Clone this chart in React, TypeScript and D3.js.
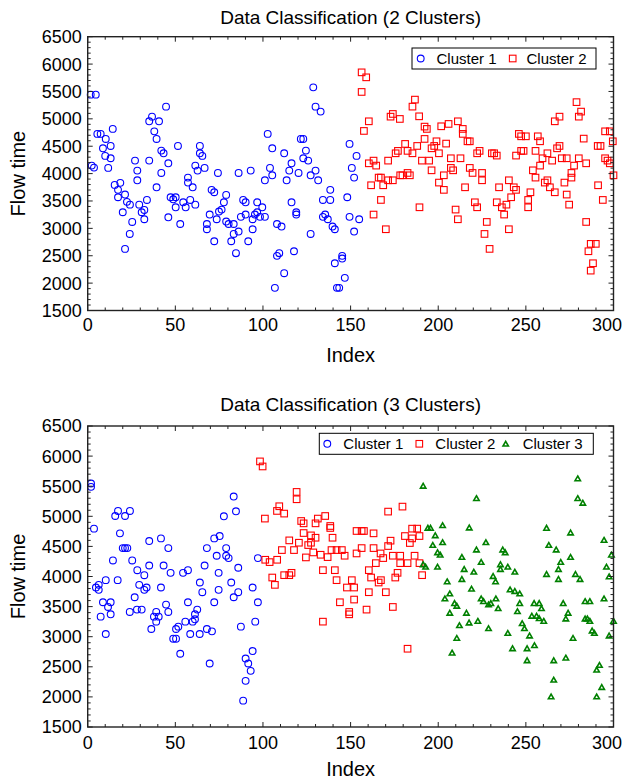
import React from 'react';
import * as d3 from 'd3';

// ---------- data: top chart (2 clusters) [index, flow time] ----------
const top2c1: [number, number][] = [
  [1.7,5442],[4.6,5442],[2.3,4146],[3.6,4110],[5.5,4725],[7.4,4725],[10.3,4633],[14.3,4816],[8.7,4462],[13.1,4505],
  [10.0,4323],[13.1,4280],[11.7,4104],[15.4,3794],[18.6,3831],[17.3,3703],[17.3,3568],[21.3,3617],[20.0,3294],[22.4,3484],
  [24.1,3433],[25.4,3117],[24.0,2898],[21.3,2625],[27.0,4237],[28.3,4055],[28.3,3878],[29.4,3433],[30.8,3294],[32.3,3336],
  [33.8,3519],[32.3,3166],[35.1,4237],[35.1,4955],[36.7,5040],[40.7,4955],[38.0,4772],[39.3,4633],[44.7,5223],[42.0,4420],
  [43.3,4371],[42.0,4012],[39.3,3750],[46.0,4188],[51.5,4505],[47.3,3568],[48.8,3531],[50.2,3568],[50.2,3385],[46.0,3202],
  [52.8,3080],[54.5,3476],[55.9,3385],[58.5,3519],[61.4,3433],[57.2,3927],[57.2,3836],[59.9,3750],[61.4,4146],[62.7,4055],
  [64.0,4505],[64.0,4371],[65.4,4323],[66.7,4104],[70.7,3703],[72.2,3659],[69.6,3252],[68.0,3080],[68.0,2984],[72.2,2765],
  [73.6,3166],[74.9,3307],[74.3,4012],[77.7,3476],[79.0,3611],[76.4,3343],[79.0,3124],[80.4,3080],[83.3,3080],[83.3,2898],
  [81.9,2765],[86.1,2942],[84.6,2546],[86.1,4012],[88.7,3519],[90.1,3476],[90.1,3252],[87.4,3210],[91.6,2765],[93.0,4055],
  [94.1,3166],[94.1,2984],[95.4,3252],[96.7,3476],[98.3,3210],[99.6,3385],[101.1,3210],[96.7,3294],[101.1,3878],[104.0,4104],
  [105.3,3969],[102.7,4725],[105.3,4462],[106.8,1914],[108.0,3080],[110.6,3033],[108.0,2498],[109.3,2546],[112.1,2181],[112.1,4371],
  [113.5,3878],[115.0,4055],[116.3,4188],[116.3,3476],[119.0,3294],[119.0,3252],[117.7,2582],[120.3,4012],[121.6,4633],[123.0,4633],
  [124.5,4420],[123.0,4280],[125.8,4237],[128.7,5575],[130.0,5223],[132.9,5132],[127.2,3969],[130.0,4055],[131.5,3878],[127.2,2898],
  [134.2,3519],[138.4,3519],[138.4,3703],[134.2,3210],[135.5,3252],[137.0,3166],[139.7,3033],[141.0,2984],[141.0,2363],[142.2,1914],
  [143.5,1914],[145.2,2498],[145.2,2449],[146.7,2096],[148.1,3568],[149.4,3210],[152.0,2942],[154.9,3166],[149.4,4542],[153.4,4323],
  [150.7,4104],[152.0,3927]
];
const top2c2: [number, number][] = [
  [156.3,5849],[158.9,5758],[156.3,5491],[160.4,4955],[157.6,4779],[160.4,4188],[163.1,4237],[164.6,4146],[161.7,3787],[166.0,3927],
  [167.3,3927],[168.6,3787],[167.3,3519],[163.1,3252],[170.1,2984],[171.4,4237],[171.4,3878],[174.1,3878],[172.8,5040],[174.1,5089],
  [178.1,4998],[175.7,4371],[177.0,4415],[178.3,3969],[179.6,3969],[182.5,4012],[183.8,3969],[181.1,4542],[182.5,4415],[185.3,4371],
  [185.3,5223],[186.7,5351],[189.1,5046],[188.0,4505],[190.7,4237],[194.8,4237],[189.3,3385],[192.2,4633],[192.2,4858],[193.5,4816],
  [196.2,4462],[197.7,4505],[199.0,4590],[200.4,4371],[196.2,4060],[200.4,3836],[203.2,3969],[203.2,3703],[201.7,4864],[205.9,4907],
  [211.2,4955],[204.5,4548],[207.2,4280],[212.7,4280],[207.2,4104],[208.5,4060],[215.3,3750],[209.9,3343],[211.2,3166],[214.0,4816],
  [214.0,4725],[216.7,4590],[218.0,4590],[218.0,4104],[219.6,4012],[220.9,3476],[222.2,3385],[222.2,4371],[223.6,4415],[225.0,4012],
  [225.0,3878],[227.7,3117],[226.4,2898],[229.3,2625],[230.6,4371],[231.9,4371],[233.4,4329],[234.7,3750],[233.4,3476],[236.3,3385],
  [238.9,3433],[237.6,3252],[240.3,2984],[240.3,3878],[243.1,3750],[244.4,3703],[241.6,3568],[244.4,4329],[247.3,4415],[248.7,4415],
  [246.0,4725],[247.3,4681],[250.0,4681],[252.6,3659],[251.3,3519],[251.3,3385],[254.0,4060],[255.5,3927],[255.5,4415],[256.8,4681],
  [258.1,4590],[258.1,4146],[259.5,4280],[262.3,4371],[260.8,3836],[262.3,3878],[263.7,3750],[266.5,3659],[265.0,4237],[266.5,4955],
  [269.2,5040],[267.8,4462],[269.2,4505],[270.5,4280],[273.3,4280],[272.0,3836],[276.0,4012],[276.0,3927],[273.3,3617],[274.7,3433],
  [277.5,4146],[280.2,4280],[284.4,4188],[278.9,5305],[281.5,5132],[280.2,5040],[283.0,4639],[284.4,3117],[285.7,2582],[287.0,2717],
  [289.9,2717],[287.0,2228],[288.3,2363],[291.2,3787],[293.9,3519],[295.2,4772],[297.9,4772],[291.0,4505],[292.6,4505],[299.6,4590],
  [295.2,4280],[296.6,4237],[297.9,4188],[300.0,3969]
];

// ---------- data: bottom chart (3 clusters) ----------
const bot3c1: [number, number][] = [
  [1.9,5545],[1.9,5489],[3.6,4795],[17.3,5089],[15.7,5005],[21.3,5005],[24.1,5089],[18.4,4717],[20.0,4472],[21.3,4472],
  [22.6,4472],[14.4,4267],[25.4,4267],[28.3,4105],[32.3,4022],[35.1,4589],[35.1,4183],[41.8,4633],[46.0,4472],[43.3,4183],
  [47.3,4061],[41.8,3817],[29.4,3861],[32.3,3778],[33.6,3817],[26.8,3655],[24.0,3411],[28.1,3450],[30.8,3450],[10.3,3939],
  [17.1,3939],[4.7,3817],[6.3,3861],[6.3,3778],[8.7,3572],[13.1,3572],[11.6,3494],[7.4,3333],[13.1,3372],[10.3,3045],
  [39.1,3411],[37.8,3333],[40.5,3333],[39.1,3250],[36.3,3128],[44.7,3533],[46.0,3411],[48.8,2967],[50.4,2967],[50.4,3128],
  [51.7,3167],[52.8,2717],[55.7,3250],[58.5,3045],[54.4,4061],[57.2,4105],[57.2,3572],[59.9,3250],[61.2,3289],[61.2,3372],
  [62.5,3450],[63.9,3045],[64.0,3900],[65.4,3739],[66.7,4183],[68.0,4472],[72.2,4633],[75.3,4672],[73.6,4345],[74.7,4061],
  [74.7,3778],[72.2,3572],[68.0,3128],[70.9,3089],[69.6,2555],[77.7,5000],[83.3,5328],[84.6,5083],[79.0,4472],[79.0,4345],
  [80.4,4306],[85.9,4145],[81.9,3900],[83.3,3655],[85.9,3739],[94.1,3817],[97.1,4306],[97.1,3572],[95.6,3250],[87.4,3167],
  [94.1,2762],[90.1,2638],[91.6,2555],[93.0,2433],[90.1,2267],[88.7,1938]
];
const bot3c2: [number, number][] = [
  [98.3,5912],[99.8,5828],[101.1,4962],[108.0,5089],[109.3,5167],[112.1,5045],[119.2,5405],[119.2,5283],[121.8,4922],[123.2,4883],
  [130.0,4883],[131.3,4962],[135.5,5005],[138.4,4806],[138.4,4839],[123.2,4722],[127.4,4683],[130.0,4644],[139.7,4644],[115.0,4600],
  [120.5,4561],[125.8,4522],[127.4,4561],[110.8,4439],[117.7,4439],[101.3,4278],[103.8,4239],[108.1,4278],[124.5,4317],[128.7,4400],
  [132.9,4361],[136.9,4322],[139.1,4439],[142.0,4439],[145.0,4439],[134.2,4105],[141.0,4105],[105.3,3983],[106.8,3861],[112.1,4022],
  [115.0,4022],[116.3,4061],[142.0,3939],[143.9,3572],[134.2,3250],[146.6,4345],[153.4,4756],[156.3,4756],[157.6,4756],[163.1,4717],
  [153.4,4383],[156.3,4472],[163.1,4472],[167.1,4383],[168.6,4306],[171.4,5078],[179.6,5161],[172.8,4595],[171.4,4506],[174.1,4345],
  [178.3,4345],[178.3,4222],[182.5,4222],[186.5,4345],[189.3,4222],[164.4,4222],[160.4,4105],[161.7,3983],[166.0,3900],[167.3,3939],
  [176.8,4061],[175.5,3983],[170.1,3739],[160.4,3739],[150.7,3939],[152.0,3817],[147.9,3817],[152.0,3617],[149.2,3411],[149.2,3372],
  [159.1,3450],[174.1,3494],[190.8,4022],[181.0,4672],[183.8,4556],[185.1,4795],[188.0,4795],[185.1,4633],[189.3,4672],[182.5,2800]
];
const bot3c3: [number, number][] = [
  [191.4,5505],[194.1,4806],[195.6,4806],[202.5,4850],[198.3,4683],[196.9,4522],[202.5,4567],[199.6,4400],[201.1,4361],[191.4,4200],
  [192.8,4161],[199.6,4161],[221.8,5300],[217.7,4811],[221.8,4445],[213.5,4322],[214.8,4122],[220.3,4078],[205.1,3917],[213.5,3956],
  [219.0,3795],[206.6,3717],[203.8,3633],[209.3,3556],[210.6,3511],[206.6,3395],[216.1,3395],[212.1,3189],[217.6,3233],[222.6,3261],
  [210.6,2978],[207.9,2733],[227.2,4567],[224.5,4239],[224.5,3633],[225.8,3589],[228.7,3533],[230.0,3556],[232.9,3633],[234.2,3472],
  [228.7,3139],[231.3,4006],[232.7,3917],[235.5,4200],[235.5,4122],[239.7,4161],[243.7,4078],[236.8,4445],[238.2,4400],[241.0,3783],
  [243.7,3756],[246.5,3717],[246.5,3556],[245.2,3422],[239.7,3061],[247.9,3222],[249.2,3139],[252.1,3017],[242.4,2806],[250.7,2806],
  [254.9,2856],[250.7,2606],[254.7,3556],[257.6,3556],[258.9,3472],[253.4,3345],[256.1,3345],[257.6,3306],[260.2,3261],[261.8,4806],
  [263.1,4522],[267.3,4445],[261.8,4039],[268.6,4122],[268.6,3956],[269.9,4239],[275.5,4728],[275.5,4322],[278.3,4039],[280.9,3956],
  [279.6,5628],[279.6,5300],[282.5,5222],[271.3,3556],[274.1,3395],[272.8,3300],[276.9,2978],[272.8,2650],[265.9,2606],[265.9,2283],
  [264.4,2005],[283.8,3589],[286.5,3589],[283.8,3300],[285.1,3300],[286.5,3261],[287.8,3100],[289.1,3061],[294.6,4606],[298.8,4361],
  [296.0,4161],[297.5,4000],[294.6,3633],[300.0,3261],[297.5,3017],[292.0,2528],[290.4,2450],[293.3,2161],[290.4,2005]
];

const xTickVals = [0, 50, 100, 150, 200, 250, 300];
const yTickVals = [1500, 2000, 2500, 3000, 3500, 4000, 4500, 5000, 5500, 6000, 6500];
const titles = ['Data Classification (2 Clusters)', 'Data Classification (3 Clusters)'];
const clusterNames = ['Cluster 1', 'Cluster 2', 'Cluster 3'];

const FONT = 'Liberation Sans, Arial, Helvetica, sans-serif';
const COLORS = ['#0000ff', '#ff0000', '#008000'];
const SVG_W = 626;

type Shape = 'circle' | 'square' | 'triangle';

function Marker({ shape, x, y, color }: { shape: Shape; x: number; y: number; color: string }) {
  if (shape === 'circle') {
    return <circle cx={x} cy={y} r={3.4} fill="none" stroke={color} strokeWidth={1.1} />;
  }
  if (shape === 'square') {
    const s = 6.6;
    return <rect x={x - s / 2} y={y - s / 2} width={s} height={s} fill="none" stroke={color} strokeWidth={1.1} />;
  }
  const h = 4.4;
  const w = 2.7;
  return (
    <path
      d={`M${x},${y - h / 2 - 0.3} L${x + w},${y + h / 2} L${x - w},${y + h / 2} Z`}
      fill="none"
      stroke={color}
      strokeWidth={1.6}
      strokeLinejoin="miter"
    />
  );
}

interface SeriesDef { data: [number, number][]; shape: Shape; color: string; name: string; }
interface LegendItem { mx: number; tx: number; }

function Panel({
  top, bottom, left, right, title, titleY, tickLabelY, xLabelY, series, legendBox, legendItems,
}: {
  top: number; bottom: number; left: number; right: number; title: string; titleY: number;
  tickLabelY: number; xLabelY: number; series: SeriesDef[];
  legendBox: { x: number; y: number; w: number; h: number }; legendItems: LegendItem[];
}) {
  const x = d3.scaleLinear().domain([0, 300]).range([left, right]);
  const y = d3.scaleLinear().domain([1500, 6500]).range([bottom, top]);
  const xMinor = d3.range(0, 301, 10);
  const yMinor = d3.range(1500, 6501, 100);
  const axisColor = '#222';
  const ly = legendBox.y + legendBox.h / 2;
  const tickFs = 18;
  return (
    <g>
      <text x={(left + right) / 2} y={titleY} textAnchor="middle" fontFamily={FONT} fontSize={19}>{title}</text>
      {series.map((s, si) => (
        <g key={si}>
          {s.data.map((d, i) => (
            <Marker key={i} shape={s.shape} x={x(d[0])} y={y(d[1])} color={s.color} />
          ))}
        </g>
      ))}
      <rect x={left} y={top} width={right - left} height={bottom - top} fill="none" stroke={axisColor} strokeWidth={1.4} />
      {xMinor.map((v) => {
        const len = v % 50 === 0 ? 5 : 3;
        return (
          <g key={'x' + v}>
            <line x1={x(v)} x2={x(v)} y1={bottom} y2={bottom - len} stroke={axisColor} strokeWidth={1} />
            <line x1={x(v)} x2={x(v)} y1={top} y2={top + len} stroke={axisColor} strokeWidth={1} />
          </g>
        );
      })}
      {yMinor.map((v) => {
        const len = v % 500 === 0 ? 5 : 3;
        return (
          <g key={'y' + v}>
            <line x1={left} x2={left + len} y1={y(v)} y2={y(v)} stroke={axisColor} strokeWidth={1} />
            <line x1={right} x2={right - len} y1={y(v)} y2={y(v)} stroke={axisColor} strokeWidth={1} />
          </g>
        );
      })}
      {xTickVals.map((v) => {
        const px = x(v);
        const halfW = String(v).length * 0.556 * tickFs / 2;
        const cx = Math.min(px, SVG_W - 4 - halfW);
        return (
          <text key={'xl' + v} x={cx} y={tickLabelY} textAnchor="middle" fontFamily={FONT} fontSize={tickFs}>{v}</text>
        );
      })}
      {yTickVals.map((v) => (
        <text key={'yl' + v} x={left - 6} y={y(v)} dy="0.36em" textAnchor="end" fontFamily={FONT} fontSize={tickFs}>{v}</text>
      ))}
      <text x={(left + right) / 2} y={xLabelY} textAnchor="middle" fontFamily={FONT} fontSize={20}>Index</text>
      <text transform={`translate(25,${(top + bottom) / 2}) rotate(-90)`} textAnchor="middle" fontFamily={FONT} fontSize={20}>Flow time</text>
      <rect x={legendBox.x} y={legendBox.y} width={legendBox.w} height={legendBox.h} fill="#fff" stroke="#000" strokeWidth={1} />
      {series.map((s, si) => (
        <g key={'lg' + si}>
          <Marker shape={s.shape} x={legendItems[si].mx} y={ly} color={s.color} />
          <text x={legendItems[si].tx} y={ly} dy="0.36em" fontFamily={FONT} fontSize={15}>{s.name}</text>
        </g>
      ))}
    </g>
  );
}

export default function App() {
  const left = 87.7;
  const right = 613.5;
  const topSeries: SeriesDef[] = [
    { data: top2c1, shape: 'circle', color: COLORS[0], name: clusterNames[0] },
    { data: top2c2, shape: 'square', color: COLORS[1], name: clusterNames[1] },
  ];
  const botSeries: SeriesDef[] = [
    { data: bot3c1, shape: 'circle', color: COLORS[0], name: clusterNames[0] },
    { data: bot3c2, shape: 'square', color: COLORS[1], name: clusterNames[1] },
    { data: bot3c3, shape: 'triangle', color: COLORS[2], name: clusterNames[2] },
  ];
  return (
    <svg width={626} height={781} style={{ position: 'absolute', left: 0, top: 0, background: '#fff' }}>
      <rect x={0} y={0} width={626} height={781} fill="#fff" />
      <Panel
        top={36.7} bottom={310.5} left={left} right={right} title={titles[0]} titleY={24}
        tickLabelY={331} xLabelY={362} series={topSeries}
        legendBox={{ x: 412, y: 48, w: 184, h: 21 }}
        legendItems={[{ mx: 420.7, tx: 436.5 }, { mx: 512.7, tx: 526.5 }]}
      />
      <Panel
        top={426} bottom={727} left={left} right={right} title={titles[1]} titleY={411}
        tickLabelY={749} xLabelY={776} series={botSeries}
        legendBox={{ x: 319.3, y: 433.3, w: 274, h: 21 }}
        legendItems={[{ mx: 327.3, tx: 343.3 }, { mx: 419.3, tx: 435.3 }, { mx: 505.7, tx: 522.7 }]}
      />
    </svg>
  );
}
